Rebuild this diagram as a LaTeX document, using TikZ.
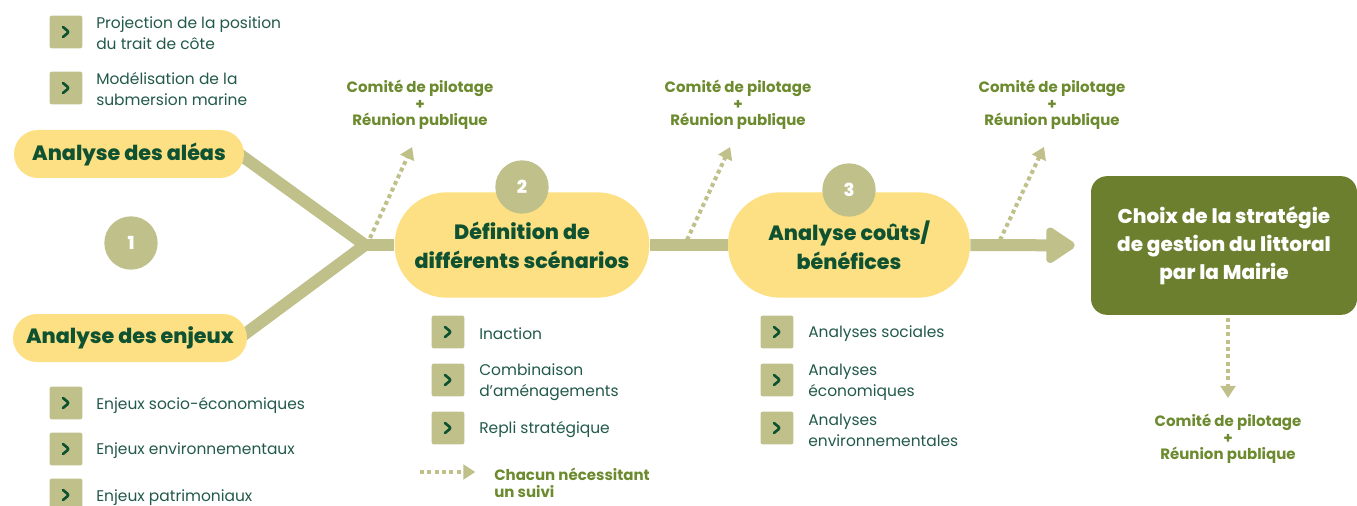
\documentclass[tikz,border=0pt]{standalone}
\usepackage{fontspec}
\setmainfont{Poppins}
\newfontfamily\epais{Poppins ExtraBold}
\usetikzlibrary{arrows.meta,backgrounds}
\definecolor{jaune}{HTML}{FCE083}
\definecolor{kaki}{HTML}{BFC08A}
\definecolor{vertfonce}{HTML}{0F5232}
\definecolor{vertpuce}{HTML}{22594A}
\definecolor{olivefonce}{HTML}{6C8A2E}
\definecolor{boite}{HTML}{6B7F2E}

\begin{document}
\begin{tikzpicture}[x=0.75pt,y=-0.75pt,
	etape/.style={fill=jaune, text=vertfonce, align=center, inner sep=0pt,
		font=\epais\fontsize{15.5}{21.75}\selectfont},
	numero/.style={circle, fill=kaki, text=white, minimum size=40pt, inner sep=0pt,
		font=\epais\fontsize{13.5}{13.5}\selectfont},
	puce/.style={fill=kaki, rounded corners=1.5pt, minimum size=24.5pt, inner sep=0pt,
		path picture={\draw[vertfonce, line width=2pt, line cap=round, line join=round]
			([shift={(-3,-5)}]path picture bounding box.center) -- ++(6,5) -- ++(-6,5);}},
	item/.style={anchor=west, align=left, inner sep=0pt, yshift=-1.5pt, text=vertpuce,
		font=\fontsize{11.6}{15.75}\selectfont},
	comite/.style={align=center, inner sep=0pt, yshift=-1.5pt, text=olivefonce,
		font=\bfseries\fontsize{11.25}{12.4}\selectfont},
	tronc/.style={draw=kaki, line width=9pt},
	suivi/.style={draw=kaki, line width=3pt, dash pattern=on 3pt off 2.5pt,
		-{Triangle[length=9pt,width=11pt]}}]
	\useasboundingbox (0,0) rectangle (1357,506);

	% phase 1
	\node[puce] (P1) at (66,32) {};
	\node[item] (T1) at (96,31) {Projection de la position\\du trait de côte};
	\node[puce] (P2) at (66,88) {};
	\node[item] (T2) at (96,87.5) {Modélisation de la\\submersion marine};
	\node[etape, minimum width=172.5pt, minimum height=36pt, rounded corners=18pt] (Alea) at (129,154) {Analyse des aléas};
	\node[numero] (N1) at (131,243) {1};
	\node[etape, minimum width=175.5pt, minimum height=36pt, rounded corners=18pt] (Enjeu) at (130,338) {Analyse des enjeux};
	\node[puce] (P3) at (66,403) {};
	\node[item] (T3) at (96,403) {Enjeux socio-économiques};
	\node[puce] (P4) at (66,449) {};
	\node[item] (T4) at (96,449) {Enjeux environnementaux};
	\node[puce] (P5) at (66,495) {};
	\node[item] (T5) at (96,496) {Enjeux patrimoniaux};
	\coordinate (J) at (365,245);

	% phase 2
	\node[etape, minimum width=191pt, minimum height=79pt, rounded corners=39pt] (Def) at (522,245) {Définition de\\différents scénarios};
	\node[numero] (N2) at (522,187) {2};
	\node[puce] (P6) at (448,332) {};
	\node[item] (T6) at (479,332) {Inaction};
	\node[puce] (P7) at (448,380) {};
	\node[item] (T7) at (479,380.5) {Combinaison\\d’aménagements};
	\node[puce] (P8) at (448,428) {};
	\node[item] (T8) at (479,428) {Repli stratégique};

	% phase 3
	\node[etape, minimum width=181.5pt, minimum height=79pt, rounded corners=39pt] (Cout) at (849,245) {Analyse coûts/\\bénéfices};
	\node[numero] (N3) at (849,190) {3};
	\node[puce] (P9) at (777,332) {};
	\node[item] (T9) at (808,332) {Analyses sociales};
	\node[puce] (P10) at (777,380) {};
	\node[item] (T10) at (808,380.5) {Analyses\\économiques};
	\node[puce] (P11) at (777,428) {};
	\node[item] (T11) at (808,428) {Analyses\\environnementales};

	% decision
	\node[fill=boite, text=white, align=center, minimum width=199.5pt, minimum height=104pt, rounded corners=12pt,
		font=\epais\fontsize{15}{21}\selectfont] (Choix) at (1224,245.5) {Choix de la stratégie\\de gestion du littoral\\par la Mairie};

	% concertation
	\node[comite] (CP1) at (420,103) {Comité de pilotage\\+\\Réunion publique};
	\node[comite] (CP2) at (738,103) {Comité de pilotage\\+\\Réunion publique};
	\node[comite] (CP3) at (1052,103) {Comité de pilotage\\+\\Réunion publique};
	\node[comite] (CP4) at (1228,437) {Comité de pilotage\\+\\Réunion publique};
	\coordinate (S1) at (370,238);
	\coordinate (S2) at (687,240);
	\coordinate (S3) at (1000,240);
	\draw[suivi, shorten >=14pt] (S1) -- (CP1.south);
	\draw[suivi, shorten >=14pt] (S2) -- (CP2.south);
	\draw[suivi, shorten >=14pt] (S3) -- (CP3.south);
	\draw[suivi, shorten <=2pt, shorten >=12pt] (Choix.south -| CP4.north) -- (CP4.north);

	% legende
	\node[comite, anchor=west, align=left] (Leg) at (494,481) {Chacun nécessitant\\un suivi};
	\coordinate (L) at (420,472);
	\draw[suivi, shorten >=14pt] (L) -- (L -| Leg.west);

	\begin{scope}[on background layer]
		\draw[tronc] ([shift={(-5,0)}]Alea.east) -- (J) -- ([shift={(-5,-2)}]Enjeu.east);
		\draw[tronc] (J) -- (Def);
		\draw[tronc] (Def) -- (Cout);
		\draw[tronc, -{Triangle[length=24pt,width=30pt,round]}, shorten >=12pt] (Cout) -- (Choix);
	\end{scope}
\end{tikzpicture}
\end{document}
